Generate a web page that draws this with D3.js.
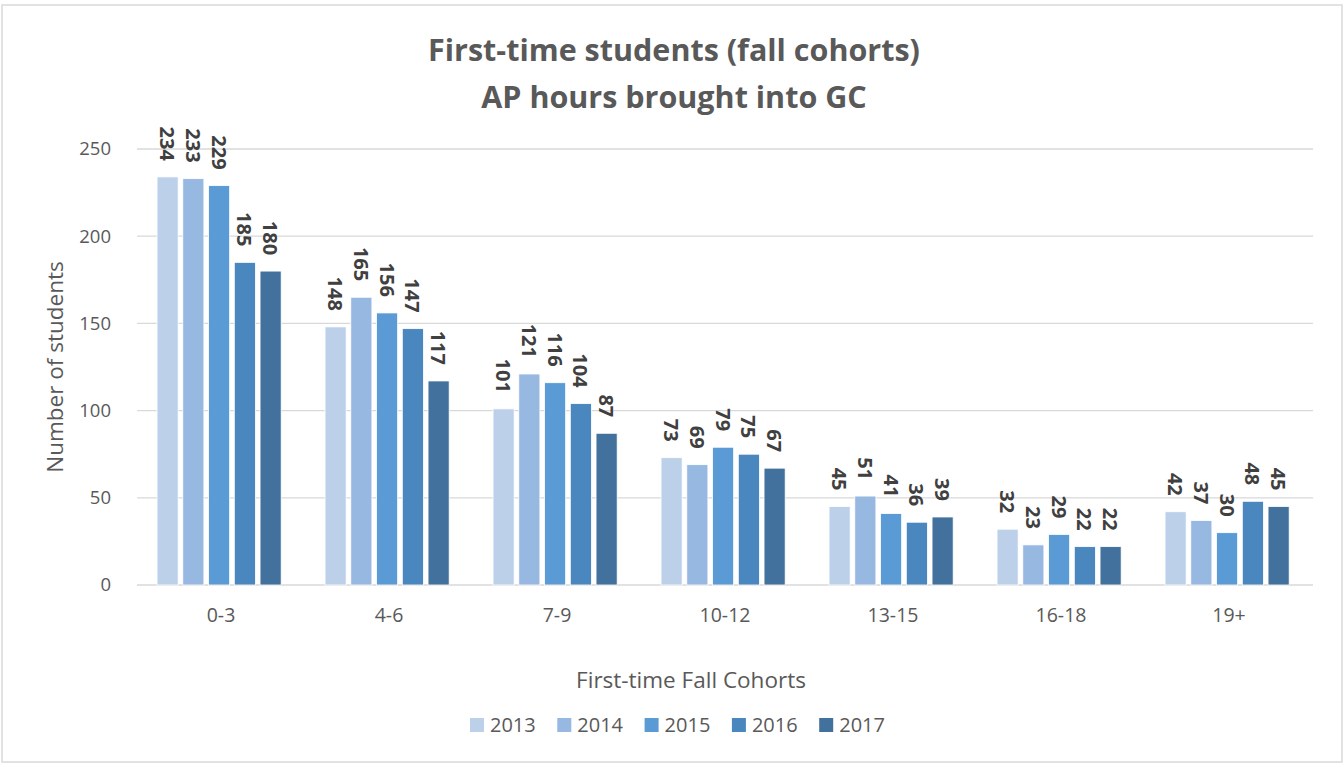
<!DOCTYPE html>
<html><head><meta charset="utf-8">
<script src="https://cdn.jsdelivr.net/npm/d3@7"></script>
<style>body{margin:0;background:#fff;} svg{display:block;} text{font-family:"Open Sans","Noto Sans",sans-serif;}</style>
</head><body><svg id="c" width="1344" height="764"></svg>
<script>
const categories = ["0-3","4-6","7-9","10-12","13-15","16-18","19+"];
const years = ["2013","2014","2015","2016","2017"];
const values = {
  "2013": [234,148,101,73,45,32,42],
  "2014": [233,165,121,69,51,23,37],
  "2015": [229,156,116,79,41,29,30],
  "2016": [185,147,104,75,36,22,48],
  "2017": [180,117,87,67,39,22,45]
};
const yTicks = [0,50,100,150,200,250];
const colors = ["#bdd0ea","#97b8e0","#5b9bd5","#4a87bf","#41719c"];

const svg = d3.select("#c");
svg.append("rect").attr("x",2).attr("y",5).attr("width",1340).attr("height",757)
  .attr("fill","#fff").attr("stroke","#d9d9d9").attr("stroke-width",1.5);

const L=137,R=1313,T=149,B=585;
const x = d3.scaleBand().domain(categories).range([L,R]).padding(0);
const xi = d3.scaleBand().domain(years).range([15.4,148.8]).padding(0.18);
const y = d3.scaleLinear().domain([0,250]).range([B,T]);

// gridlines
svg.append("g").selectAll("line").data(yTicks).join("line")
  .attr("x1",L).attr("x2",R).attr("y1",d=>y(d)).attr("y2",d=>y(d))
  .attr("stroke","#d9d9d9").attr("stroke-width",1.3);

// y tick labels
svg.append("g").selectAll("text").data(yTicks).join("text")
  .attr("x",111).attr("y",d=>y(d)).attr("dy","0.35em").attr("text-anchor","end")
  .attr("fill","#595959").attr("font-size",18.5).text(d=>d);

// bars
const g = svg.append("g");
years.forEach((yr,i)=>{
  const data = categories.map((c,j)=>({c, v: values[yr][j]}));
  g.selectAll(".b"+i).data(data).join("rect")
    .attr("x",d=>x(d.c)+xi(yr)).attr("width",xi.bandwidth())
    .attr("y",d=>y(d.v)).attr("height",d=>B-y(d.v))
    .attr("fill",colors[i]).attr("stroke","#fff").attr("stroke-width",0.8);
  g.selectAll(".l"+i).data(data).join("text")
    .attr("transform",d=>`translate(${x(d.c)+xi(yr)+xi.bandwidth()/2},${y(d.v)-16}) rotate(90)`)
    .attr("text-anchor","end").attr("dominant-baseline","central")
    .attr("font-size",20).attr("font-weight","bold").attr("fill","#404040")
    .text(d=>d.v);
});

// x tick labels
svg.append("g").selectAll("text").data(categories).join("text")
  .attr("x",d=>x(d)+x.bandwidth()/2).attr("y",615).attr("dy","0.35em")
  .attr("text-anchor","middle").attr("fill","#595959").attr("font-size",19.5).text(d=>d);

// titles
svg.append("text").attr("x",674).attr("y",50).attr("dy","0.35em").attr("text-anchor","middle")
  .attr("font-size",30.5).attr("font-weight","bold").attr("fill","#595959").text("First-time students (fall cohorts)");
svg.append("text").attr("x",674).attr("y",97).attr("dy","0.35em").attr("text-anchor","middle")
  .attr("font-size",30.5).attr("font-weight","bold").attr("fill","#595959").text("AP hours brought into GC");

svg.append("text").attr("transform","translate(55,367) rotate(-90)").attr("dy","0.35em")
  .attr("text-anchor","middle").attr("font-size",22.5).attr("fill","#595959").text("Number of students");
svg.append("text").attr("x",691).attr("y",680).attr("dy","0.35em").attr("text-anchor","middle")
  .attr("font-size",22.5).attr("fill","#595959").text("First-time Fall Cohorts");

// legend
const lg = svg.append("g").selectAll("g").data(years).join("g")
  .attr("transform",(d,i)=>`translate(${470+i*87.3},725)`);
lg.append("rect").attr("x",0).attr("y",-7).attr("width",14).attr("height",14).attr("fill",(d,i)=>colors[i]);
lg.append("text").attr("x",20).attr("y",0).attr("dy","0.35em").attr("font-size",20).attr("fill","#595959").text(d=>d);
</script></body></html>
